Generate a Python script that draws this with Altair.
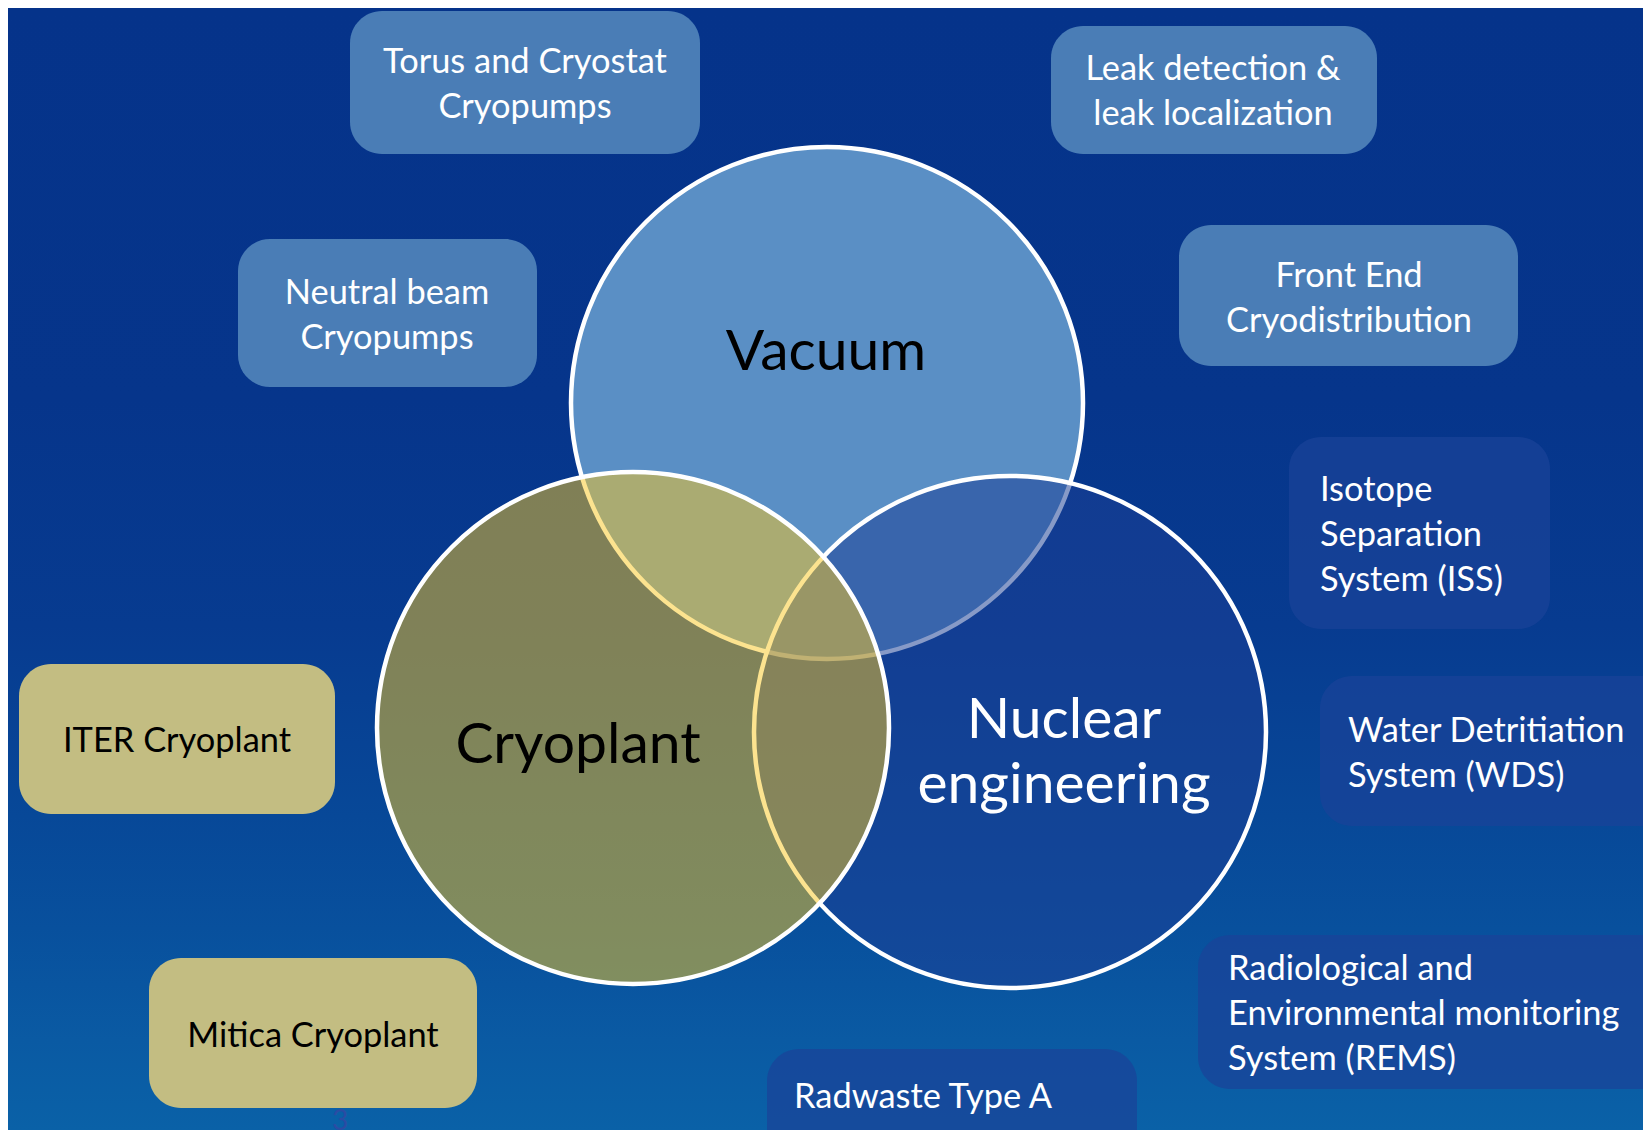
import altair as alt
import pandas as pd

# plot area in reference-pixel units (page margin of 8px)
X0, X1 = 8, 1643
Y0, Y1 = 8, 1130

# Venn circles (drawn bottom to top)
circle_names = ["Vacuum", "Nuclear engineering", "Cryoplant"]
circle_cx = [827, 1010, 633]
circle_cy = [403, 732, 728]
circle_r = [256, 256, 256]
circle_fill = ["#5A8FC5", "#1D4096", "#FAC71F"]
circle_alpha = [1.0, 0.53, 0.5]

# rounded boxes
box_names = ["Torus", "Leak", "Neutral", "FrontEnd", "ISS", "WDS", "REMS", "Radwaste", "ITER", "Mitica"]
box_x1 = [350, 1051, 238, 1179, 1289, 1320, 1198, 767, 19, 149]
box_x2 = [700, 1377, 537, 1518, 1550, 1690, 1690, 1137, 335, 477]
box_y1 = [11, 26, 239, 225, 437, 676, 935, 1049, 664, 958]
box_y2 = [154, 154, 387, 366, 629, 826, 1089, 1170, 814, 1108]
box_fill = ["#4A7DB6", "#4A7DB6", "#4A7DB6", "#4A7DB6",
            "#1A4298", "#1A4298", "#1A4298", "#1A4298",
            "#C3BD82", "#C3BD82"]
box_alpha = [1, 1, 1, 1, 0.72, 0.72, 0.72, 0.72, 1, 1]

# box labels (first-line baseline)
label_text = ["Torus and Cryostat\nCryopumps", "Leak detection &\nleak localization",
              "Neutral beam\nCryopumps", "Front End\nCryodistribution",
              "Isotope\nSeparation\nSystem (ISS)", "Water Detritiation\nSystem (WDS)",
              "Radiological and\nEnvironmental monitoring\nSystem (REMS)", "Radwaste Type A",
              "ITER Cryoplant", "Mitica Cryoplant"]
label_x = [525, 1213, 387, 1349, 1320, 1348, 1228, 794, 177, 313]
label_y = [73, 80, 304, 287, 501, 742, 980, 1108, 752, 1047]
label_align = ["center", "center", "center", "center", "left", "left", "left", "left", "center", "center"]
label_color = ["#FFFFFF"] * 8 + ["#000000"] * 2

# circle titles
title_text = ["Vacuum", "Cryoplant", "Nuclear\nengineering"]
title_x = [826, 578, 1064]
title_y = [370, 763, 738]
title_color = ["#000000", "#000000", "#FFFFFF"]

# page number
page_text = ["3"]
page_x = [340]
page_y = [1130]

FONT = "Lato"

xs = alt.Scale(domain=[X0, X1], nice=False, zero=False)
ys = alt.Scale(domain=[Y0, Y1], nice=False, zero=False, reverse=True)

bg_df = pd.DataFrame({"a": [0]})
background = alt.Chart(bg_df).mark_rect(
    color=alt.LinearGradient(
        gradient="linear",
        stops=[
            alt.GradientStop(offset=0, color="#05338A"),
            alt.GradientStop(offset=0.35, color="#06358B"),
            alt.GradientStop(offset=0.55, color="#073B90"),
            alt.GradientStop(offset=0.72, color="#074898"),
            alt.GradientStop(offset=0.82, color="#08509D"),
            alt.GradientStop(offset=0.92, color="#0A5AA3"),
            alt.GradientStop(offset=1, color="#0A61A7"),
        ],
        x1=0, x2=0, y1=0, y2=1,
    )
).encode(
    x=alt.value(0), x2=alt.value(X1 - X0), y=alt.value(0), y2=alt.value(Y1 - Y0)
)

# Vega circle symbols: size is the area of the bounding square, (2r)^2
circ_df = pd.DataFrame({
    "name": circle_names, "cx": circle_cx, "cy": circle_cy,
    "size": [4 * r * r for r in circle_r],
    "fill": circle_fill, "alpha": circle_alpha, "z": list(range(len(circle_names))),
})
circles = alt.Chart(circ_df).mark_point(
    shape="circle", filled=True, opacity=1, stroke="white", strokeWidth=4.5, strokeOpacity=1
).encode(
    x=alt.X("cx:Q", scale=xs, axis=None),
    y=alt.Y("cy:Q", scale=ys, axis=None),
    size=alt.Size("size:Q", scale=None, legend=None),
    fill=alt.Fill("fill:N", scale=None, legend=None),
    fillOpacity=alt.FillOpacity("alpha:Q", scale=None, legend=None),
    order=alt.Order("z:Q"),
)

box_df = pd.DataFrame({
    "name": box_names, "x1": box_x1, "x2": box_x2, "y1": box_y1, "y2": box_y2,
    "fill": box_fill, "alpha": box_alpha,
})
boxes = alt.Chart(box_df).mark_rect(cornerRadius=32, clip=True, strokeWidth=0).encode(
    x=alt.X("x1:Q", scale=xs, axis=None),
    x2="x2:Q",
    y=alt.Y("y1:Q", scale=ys, axis=None),
    y2="y2:Q",
    fill=alt.Fill("fill:N", scale=None, legend=None),
    fillOpacity=alt.FillOpacity("alpha:Q", scale=None, legend=None),
)

lab_df = pd.DataFrame({
    "text": label_text, "x": label_x, "y": label_y,
    "align": label_align, "color": label_color,
})


def label_layer(align):
    return alt.Chart(lab_df).transform_filter(
        alt.datum.align == align
    ).mark_text(
        align=align, baseline="alphabetic", font=FONT, fontSize=34.4, lineBreak="\n", lineHeight=45
    ).encode(
        x=alt.X("x:Q", scale=xs, axis=None),
        y=alt.Y("y:Q", scale=ys, axis=None),
        text="text:N",
        color=alt.Color("color:N", scale=None, legend=None),
    )


labels_c = label_layer("center")
labels_l = label_layer("left")

title_df = pd.DataFrame({"text": title_text, "x": title_x, "y": title_y, "color": title_color})
titles = alt.Chart(title_df).mark_text(
    align="center", baseline="alphabetic", font=FONT, fontSize=57, lineBreak="\n", lineHeight=65
).encode(
    x=alt.X("x:Q", scale=xs, axis=None),
    y=alt.Y("y:Q", scale=ys, axis=None),
    text="text:N",
    color=alt.Color("color:N", scale=None, legend=None),
)

page_df = pd.DataFrame({"text": page_text, "x": page_x, "y": page_y})
page = alt.Chart(page_df).mark_text(
    align="center", baseline="alphabetic", font=FONT, fontSize=28, color="#2A4CA4"
).encode(
    x=alt.X("x:Q", scale=xs, axis=None),
    y=alt.Y("y:Q", scale=ys, axis=None),
    text="text:N",
)

chart = alt.layer(
    background, boxes, circles, labels_c, labels_l, titles, page
).properties(
    width=X1 - X0, height=Y1 - Y0, padding=0, background="white"
).configure_view(stroke=None)

chart.save("out.html", embed_options={"renderer": "svg", "actions": False})
